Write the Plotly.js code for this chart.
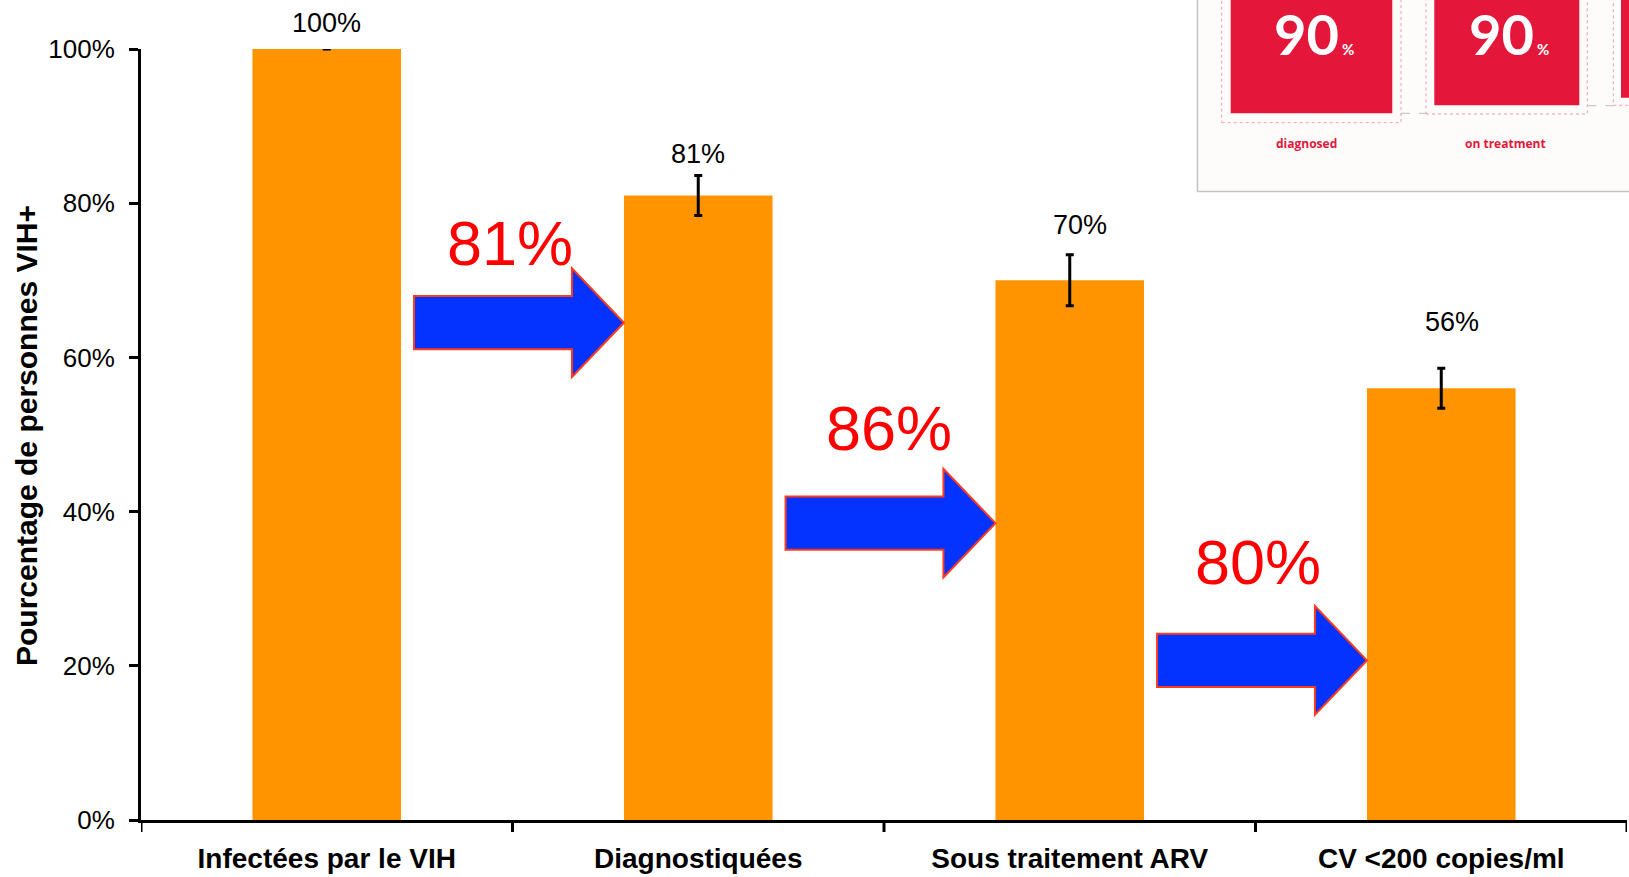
<!DOCTYPE html>
<html>
<head>
<meta charset="utf-8">
<script src="https://cdn.plot.ly/plotly-3.0.1.min.js"></script>
<style>
  html, body { margin: 0; padding: 0; background: #fff; }
  #plot { width: 1629px; height: 877px; }
</style>
</head>
<body>
<div id="plot"></div>
<script>
// --- data ---
const categories = ["Infectées par le VIH", "Diagnostiquées", "Sous traitement ARV", "CV <200 copies/ml"];
const values = [100, 81, 70, 56];     // % of people living with HIV
const errors = [0, 2.6, 3.3, 2.6];    // error bar half-widths, %
const yTicks = [0, 20, 40, 60, 80, 100];
const yTitle = "Pourcentage de personnes VIH+";

// the 90-90-90 targets in the pasted picture (top right)
const targets = [90, 90];
const targetLabels = ["diagnosed", "on treatment"];

// --- plot geometry (px) ---
const W = 1629, H = 877;
const PL = 141, PR = 2, PT = 49, PB = 57;
const PW = W - PL - PR, PH = H - PT - PB;
function px(x) { return (x - PL) / PW; }
function py(y) { return (PT + PH - y) / PH; }

const FONT = 'Arial, "Liberation Sans", Helvetica, sans-serif';

// value labels above the bars (offsets as in the original slide)
const labelShift = [26, 41, 55, 66];
const labelXShift = [0, 0, 10, 11];

const annotations = values.map((v, i) => ({
  x: i, y: v, xref: "x", yref: "y",
  text: v + "%", showarrow: false,
  yanchor: "middle", yshift: labelShift[i], xshift: labelXShift[i],
  font: { family: FONT, size: 27, color: "#000" }
}));

// y axis title, placed by hand like on the slide
annotations.push({
  x: px(26), y: py(436), xref: "paper", yref: "paper",
  text: "<b>" + yTitle + "</b>", textangle: -90, showarrow: false,
  xanchor: "center", yanchor: "middle",
  font: { family: FONT, size: 30, color: "#000" }
});

// arrows between bars, with the step-to-step ratio
const arrowTip = [64.5, 38.5, 20.7];
const ratioY = [74.9, 50.9, 33.5];
const ratioX = [0.493, 1.513, 2.507];
const shapes = [];
for (let k = 0; k < values.length - 1; k++) {
  const x0 = k + 0.235, xh = k + 0.66, xt = k + 0.8;
  const t = arrowTip[k], bh = 3.45, hh = 7.05;
  shapes.push({
    type: "path", xref: "x", yref: "y",
    path: `M${x0},${t + bh} L${xh},${t + bh} L${xh},${t + hh} L${xt},${t} L${xh},${t - hh} L${xh},${t - bh} L${x0},${t - bh} Z`,
    fillcolor: "#0433FF", line: { color: "#FF3B1F", width: 2 }, layer: "above"
  });
  const ratio = Math.round(values[k + 1] / values[k] * 100);
  annotations.push({
    x: ratioX[k], y: ratioY[k], xref: "x", yref: "y",
    text: ratio + "%", showarrow: false, yanchor: "middle",
    font: { family: FONT, size: 63, color: "#FF0000" }
  });
}

// --- pasted 90-90-90 picture ---
shapes.push({
  type: "rect", xref: "paper", yref: "paper",
  x0: px(1197.5), x1: px(1660), y0: py(191.5), y1: py(-20),
  fillcolor: "#FDFCFA", line: { color: "#C4C4C4", width: 1.5 }, layer: "above"
});
const sq = [
  { x0: 1230.7, x1: 1392.3, b: 113.3, dx0: 1221.7, dx1: 1401, db: 122.7 },
  { x0: 1434.3, x1: 1579.3, b: 105.3, dx0: 1426, dx1: 1587.3, db: 114 },
  { x0: 1621, x1: 1760, b: 97.7, dx0: 1613.3, dx1: 1770, db: 105.3 }
];
sq.forEach((s, i) => {
  shapes.push({
    type: "rect", xref: "paper", yref: "paper",
    x0: px(s.dx0), x1: px(s.dx1), y0: py(s.db), y1: py(-20),
    fillcolor: "rgba(0,0,0,0)", line: { color: "#F29AAE", width: 1, dash: "dot" }, layer: "above"
  });
  shapes.push({
    type: "rect", xref: "paper", yref: "paper",
    x0: px(s.x0), x1: px(s.x1), y0: py(s.b), y1: py(-20),
    fillcolor: "#E4173A", line: { width: 0 }, layer: "above"
  });
  if (i < sq.length - 1) {
    shapes.push({
      type: "line", xref: "paper", yref: "paper",
      x0: px(s.dx1), x1: px(sq[i + 1].dx0), y0: py(sq[i + 1].b + 8), y1: py(sq[i + 1].b + 8),
      line: { color: "#BDBDBD", width: 1, dash: "dash" }, layer: "above"
    });
  }
});
targets.forEach((t, i) => {
  const s = sq[i];
  const cx = (s.x0 + s.x1) / 2;
  annotations.push({
    x: px(cx - 5), y: py(33), xref: "paper", yref: "paper",
    text: "<b>" + t + "</b>", showarrow: false, xanchor: "center", yanchor: "middle",
    font: { family: "Lato, 'Open Sans', sans-serif", size: 56, color: "#fff" }
  });
  annotations.push({
    x: px(cx + 28), y: py(49), xref: "paper", yref: "paper",
    text: "<b>%</b>", showarrow: false, xanchor: "left", yanchor: "middle",
    font: { family: "Lato, 'Open Sans', sans-serif", size: 15, color: "#fff" }
  });
  annotations.push({
    x: px(i === 0 ? 1306.7 : 1505), y: py(143), xref: "paper", yref: "paper",
    text: "<b>" + targetLabels[i] + "</b>", showarrow: false, xanchor: "center", yanchor: "middle",
    font: { family: "'Open Sans', Lato, sans-serif", size: 12, color: "#E4173A" }
  });
});

const trace = {
  type: "bar",
  x: [0, 1, 2, 3],
  y: values,
  width: 0.4,
  marker: { color: "#FF9300", line: { width: 0 } },
  error_y: { type: "data", array: errors, visible: true, color: "#000", thickness: 3, width: 4 },
  hoverinfo: "skip"
};

const layout = {
  width: W, height: H,
  margin: { l: PL, r: PR, t: PT, b: PB },
  paper_bgcolor: "#fff", plot_bgcolor: "#fff",
  showlegend: false,
  xaxis: {
    range: [-0.5, 3.5],
    tickmode: "array",
    tickvals: [0, 1, 2, 3],
    ticktext: categories.map(c => "<b>" + c + "</b>"),
    ticks: "", showgrid: false, zeroline: false,
    showline: true, linecolor: "#000", linewidth: 3,
    tickfont: { family: FONT, size: 28, color: "#000" },
    ticklabelstandoff: 11
  },
  yaxis: {
    range: [0, 100],
    tickmode: "array",
    tickvals: yTicks,
    ticktext: yTicks.map(v => v + "%"),
    ticks: "outside", ticklen: 9, tickwidth: 3, tickcolor: "#000",
    showgrid: false, zeroline: false,
    showline: true, linecolor: "#000", linewidth: 3,
    tickfont: { family: FONT, size: 26, color: "#000" },
    ticklabelstandoff: 9
  },
  annotations: annotations,
  shapes: shapes.concat(
    // category boundary ticks on the x axis
    [-0.5, 0.5, 1.5, 2.5, 3.5].map(b => ({
      type: "line", xref: "x", yref: "paper", x0: b, x1: b, y0: 0, y1: -12 / PH,
      line: { color: "#000", width: 3 }
    }))
  )
};

Plotly.newPlot("plot", [trace], layout, { displayModeBar: false, staticPlot: true });
</script>
</body>
</html>
